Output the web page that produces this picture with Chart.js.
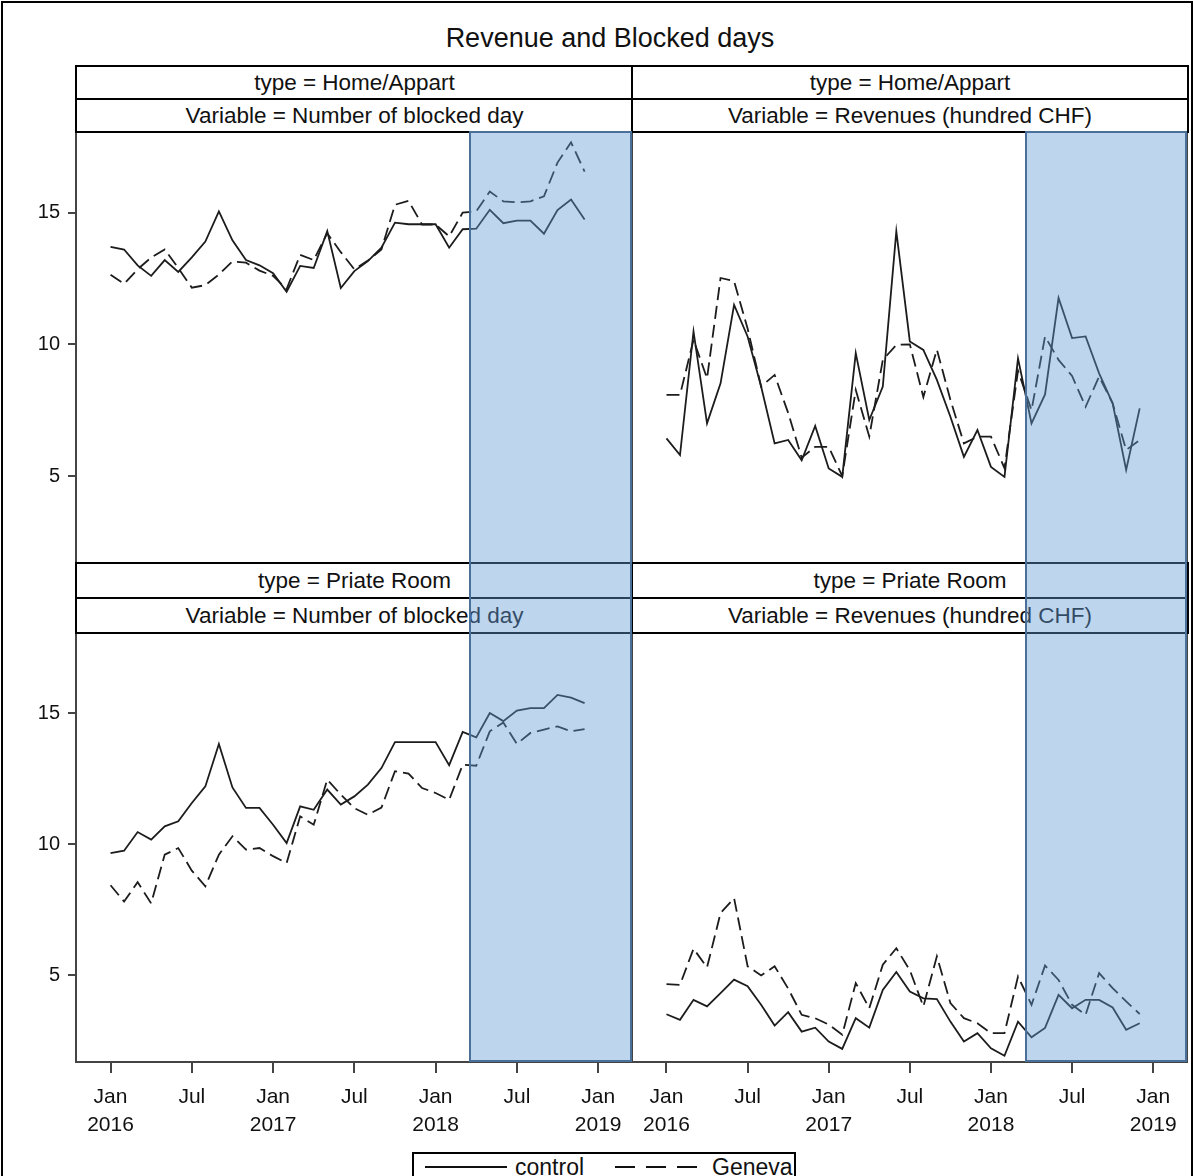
<!DOCTYPE html>
<html>
<head>
<meta charset="utf-8">
<title>Revenue and Blocked days</title>
<script src="https://cdn.jsdelivr.net/npm/chart.js@4.4.0/dist/chart.umd.min.js"></script>
<style>
  html, body { margin: 0; padding: 0; background: #fff; }
  body { font-family: "Liberation Sans", Arial, sans-serif; color: #111; }
  #fig { position: relative; width: 1193px; height: 1176px; overflow: hidden; }
  #frame { position: absolute; left: 1px; top: 1px; width: 1188px; height: 1200px; border: 2px solid #000; }
  .title { position: absolute; left: 310px; top: 20px; width: 600px; text-align: center; font-size: 27px; line-height: 36px; }
  canvas { position: absolute; }
  .strip { position: absolute; box-sizing: border-box; border: 2px solid #000; background: #fff;
           text-align: center; font-size: 22.5px; }
  .shade { position: absolute; box-sizing: border-box; background: rgba(100, 155, 215, 0.42);
           border: 2px solid #4a6f99; }
  .legend { position: absolute; left: 412px; top: 1152px; width: 384px; height: 44px; box-sizing: border-box;
            border: 2px solid #000; background: #fff; font-size: 23px; line-height: 26px; }
  .legend div, .legend span { position: absolute; }
  .legend .sample { width: 82px; height: 2px; top: 12px; }
  .legend span { top: 0px; }
  .legend .solid { background: #111; }
  .legend .dashed { background: repeating-linear-gradient(90deg, #111 0 20px, transparent 20px 31px); }
</style>
</head>
<body>
<div id="fig">
  <div id="frame"></div>
  <div class="title">Revenue and Blocked days</div>

  <canvas id="cTL" width="642" height="452" style="left:0px; top:121px;"></canvas>
  <canvas id="cTR" width="575" height="452" style="left:622px; top:121px;"></canvas>
  <canvas id="cBL" width="642" height="520" style="left:0px; top:622px;"></canvas>
  <canvas id="cBR" width="575" height="520" style="left:622px; top:622px;"></canvas>

  <div class="strip" style="left:75px; top:65px; width:559px; height:35px; line-height:31px;">type = Home/Appart</div>
  <div class="strip" style="left:631px; top:65px; width:558px; height:35px; line-height:31px;">type = Home/Appart</div>
  <div class="strip" style="left:75px; top:98px; width:559px; height:35px; line-height:31px;">Variable = Number of blocked day</div>
  <div class="strip" style="left:631px; top:98px; width:558px; height:35px; line-height:31px;">Variable = Revenues (hundred CHF)</div>

  <div class="strip" style="left:75px; top:562px; width:559px; height:38px; line-height:34px;">type = Priate Room</div>
  <div class="strip" style="left:631px; top:562px; width:558px; height:38px; line-height:34px;">type = Priate Room</div>
  <div class="strip" style="left:75px; top:597px; width:559px; height:37px; line-height:33px;">Variable = Number of blocked day</div>
  <div class="strip" style="left:631px; top:597px; width:558px; height:37px; line-height:33px;">Variable = Revenues (hundred CHF)</div>

  <div class="legend">
    <div class="sample solid" style="left:11px;"></div><span style="left:101px;">control</span>
    <div class="sample dashed" style="left:201px;"></div><span style="left:298px;">Geneva</span>
  </div>
</div>

<script>
// Monthly observations, Jan 2016 - Dec 2018
const months = [
  '2016-01','2016-02','2016-03','2016-04','2016-05','2016-06','2016-07','2016-08','2016-09','2016-10','2016-11','2016-12',
  '2017-01','2017-02','2017-03','2017-04','2017-05','2017-06','2017-07','2017-08','2017-09','2017-10','2017-11','2017-12',
  '2018-01','2018-02','2018-03','2018-04','2018-05','2018-06','2018-07','2018-08','2018-09','2018-10','2018-11','2018-12'
];

// x tick positions (month index) and their labels
const xTickValues = [0, 6, 12, 18, 24, 30, 36];
const xTickLabels = [['Jan', '2016'], ['Jul', ''], ['Jan', '2017'], ['Jul', ''], ['Jan', '2018'], ['Jul', ''], ['Jan', '2019']];
const yTickValues = [5, 10, 15];

// shaded period starts mid-March 2018 (month index)
const shadeStart = 26.5;

// type = Home/Appart, Number of blocked day
const homeDaysControl = [13.7, 13.6, 13.0, 12.6, 13.2, 12.75, 13.3, 13.9, 15.05, 13.95, 13.2, 13.0,
  12.7, 12.0, 12.98, 12.9, 14.3, 12.14, 12.78, 13.16, 13.67, 14.62, 14.56, 14.56,
  14.56, 13.67, 14.37, 14.39, 15.11, 14.6, 14.7, 14.7, 14.2, 15.1, 15.5, 14.74];
const homeDaysGeneva = [12.64, 12.3, 12.85, 13.3, 13.6, 12.9, 12.15, 12.25, 12.65, 13.15, 13.1, 12.8,
  12.6, 12.1, 13.4, 13.2, 14.22, 13.5, 12.85, 13.18, 13.6, 15.3, 15.45, 14.55,
  14.55, 14.1, 15.0, 15.05, 15.8, 15.43, 15.39, 15.43, 15.62, 16.9, 17.67, 16.56];

// type = Home/Appart, Revenues (hundred CHF)
const homeRevControl = [6.43, 5.8, 10.49, 7.0, 8.52, 11.5, 10.3, 8.4, 6.24, 6.37, 5.6, 6.9,
  5.29, 4.97, 9.67, 7.13, 8.4, 14.29, 10.11, 9.79, 8.65, 7.25, 5.73, 6.75,
  5.35, 4.97, 9.47, 7.0, 8.1, 11.76, 10.24, 10.3, 8.9, 7.76, 5.23, 7.57];
const homeRevGeneva = [8.08, 8.08, 10.17, 8.71, 12.52, 12.4, 10.6, 8.4, 8.84, 7.4, 5.7, 6.11,
  6.11, 5.0, 8.27, 6.5, 9.41, 9.98, 10.0, 8.0, 9.8, 7.9, 6.24, 6.5,
  6.5, 5.3, 9.0, 7.5, 10.3, 9.41, 8.8, 7.63, 8.78, 7.76, 5.99, 6.37];

// type = Priate Room, Number of blocked day
const roomDaysControl = [9.67, 9.76, 10.47, 10.18, 10.69, 10.88, 11.58, 12.21, 13.83, 12.17, 11.39, 11.39,
  10.75, 10.05, 11.45, 11.32, 12.09, 11.52, 11.83, 12.28, 12.91, 13.9, 13.9, 13.9,
  13.9, 13.02, 14.29, 14.08, 15.01, 14.7, 15.1, 15.2, 15.2, 15.7, 15.6, 15.39];
const roomDaysGeneva = [8.44, 7.82, 8.56, 7.75, 9.61, 9.86, 9.0, 8.4, 9.61, 10.31, 9.8, 9.86,
  9.55, 9.29, 11.07, 10.75, 12.47, 11.9, 11.38, 11.13, 11.4, 12.79, 12.7, 12.15,
  11.96, 11.7, 13.04, 13.0, 14.31, 14.65, 13.83, 14.25, 14.38, 14.5, 14.31, 14.4];

// type = Priate Room, Revenues (hundred CHF)
const roomRevControl = [3.52, 3.31, 4.07, 3.82, 4.33, 4.84, 4.59, 3.88, 3.09, 3.6, 2.86, 3.01,
  2.48, 2.2, 3.37, 3.01, 4.45, 5.13, 4.39, 4.13, 4.1, 3.24, 2.48, 2.8,
  2.22, 1.94, 3.24, 2.64, 3.0, 4.26, 3.75, 4.07, 4.07, 3.78, 2.93, 3.18];
const roomRevGeneva = [4.67, 4.64, 6.02, 5.31, 7.38, 7.95, 5.35, 5.0, 5.35, 4.5, 3.5, 3.37,
  3.13, 2.74, 4.71, 3.75, 5.41, 6.04, 5.2, 3.82, 5.73, 3.95, 3.37, 3.18,
  2.8, 2.8, 4.96, 3.88, 5.38, 4.83, 3.88, 3.5, 5.09, 4.52, 4.01, 3.53];

Chart.defaults.font.family = '"Liberation Sans", Arial, sans-serif';
Chart.defaults.font.size = 20;
Chart.defaults.color = '#111';

const lineColor = '#1c1c1c';

// box around each plot area
const framePlugin = {
  id: 'frame',
  afterDraw(chart) {
    const { ctx, chartArea: a } = chart;
    ctx.save();
    ctx.strokeStyle = '#444';
    ctx.lineWidth = 2;
    ctx.strokeRect(a.left, a.top, a.right - a.left, a.bottom - a.top);
    ctx.restore();
  }
};

function toPoints(values) {
  return values.map((v, i) => ({ x: i, y: v }));
}

function makePanel(id, control, geneva, showY, showX) {
  const padding = { left: showY ? 0 : 10, right: 10, top: 10, bottom: showX ? 0 : 10 };
  return new Chart(document.getElementById(id), {
    type: 'line',
    data: {
      datasets: [
        { label: 'Geneva', data: toPoints(geneva), borderColor: lineColor, borderWidth: 1.8,
          borderDash: [13, 6], pointRadius: 0, tension: 0, fill: false },
        { label: 'control', data: toPoints(control), borderColor: lineColor, borderWidth: 1.8,
          pointRadius: 0, tension: 0, fill: false }
      ]
    },
    options: {
      responsive: false,
      animation: false,
      devicePixelRatio: 1,
      events: [],
      layout: { padding: padding },
      plugins: { legend: { display: false }, tooltip: { enabled: false } },
      scales: {
        x: {
          type: 'linear',
          min: -2.55,
          max: 38.5,
          display: showX,
          border: { display: false },
          grid: { drawOnChartArea: false, drawTicks: true, tickLength: 11, color: '#444', lineWidth: 2 },
          afterBuildTicks: s => { s.ticks = xTickValues.map(v => ({ value: v })); },
          afterFit: s => {
            if (showX) s.height = 80;
            s.paddingLeft = 0; s.paddingRight = 0;
          },
          ticks: {
            autoSkip: false,
            maxRotation: 0,
            padding: 11,
            font: { size: 21, lineHeight: 1.3 },
            callback: v => xTickLabels[xTickValues.indexOf(v)]
          }
        },
        y: {
          min: 1.7,
          max: 18.1,
          display: showY,
          border: { display: false },
          grid: { drawOnChartArea: false, drawTicks: true, tickLength: 8, color: '#444', lineWidth: 2 },
          afterBuildTicks: s => { s.ticks = yTickValues.map(v => ({ value: v })); },
          afterFit: s => {
            if (showY) s.width = 76;
            s.paddingTop = 0; s.paddingBottom = 0;
          },
          ticks: { padding: 8, font: { size: 20 } }
        }
      }
    },
    plugins: [framePlugin]
  });
}

const chartTL = makePanel('cTL', homeDaysControl, homeDaysGeneva, true, false);
const chartTR = makePanel('cTR', homeRevControl, homeRevGeneva, false, false);
const chartBL = makePanel('cBL', roomDaysControl, roomDaysGeneva, true, true);
const chartBR = makePanel('cBR', roomRevControl, roomRevGeneva, false, true);

// shaded period spans both rows of a column, over the strips in between
function addShade(top, bottom) {
  const fig = document.getElementById('fig');
  const tc = top.canvas, bc = bottom.canvas;
  const left = tc.offsetLeft + top.scales.x.getPixelForValue(shadeStart);
  const right = tc.offsetLeft + top.chartArea.right;
  const y0 = tc.offsetTop + top.chartArea.top;
  const y1 = bc.offsetTop + bottom.chartArea.bottom;
  const d = document.createElement('div');
  d.className = 'shade';
  d.style.left = Math.round(left) + 'px';
  d.style.top = Math.round(y0) + 'px';
  d.style.width = Math.round(right - left) + 'px';
  d.style.height = Math.round(y1 - y0) + 'px';
  fig.appendChild(d);
}

addShade(chartTL, chartBL);
addShade(chartTR, chartBR);
</script>
</body>
</html>
